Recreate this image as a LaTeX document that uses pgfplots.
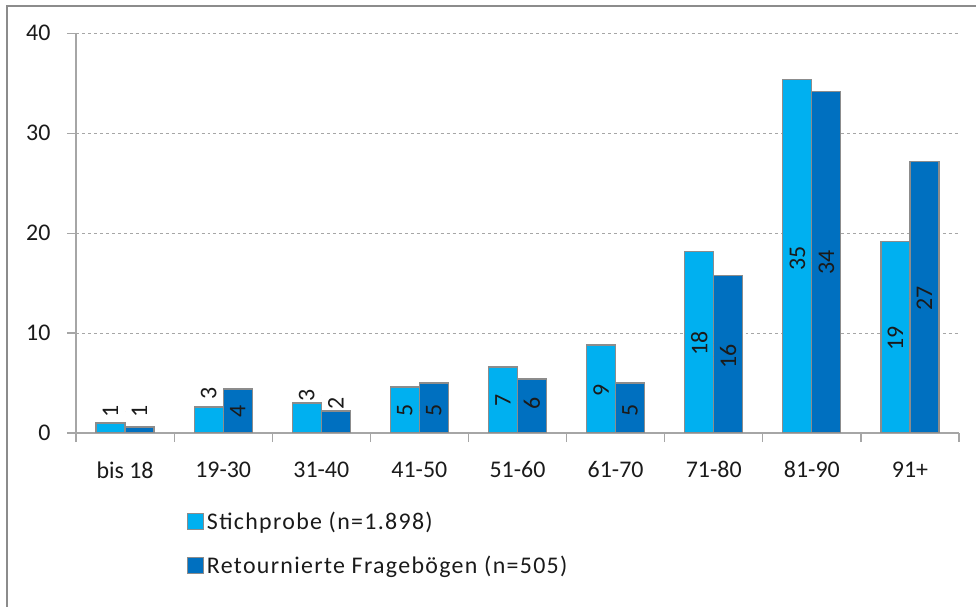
\documentclass[border=0pt]{standalone}
\usepackage{pgfplots}
\pgfplotsset{compat=1.18}
\usepackage{pgfplotstable}
\usepackage{fontspec}
\setmainfont{Carlito}
\newfontfamily\legfont[LetterSpace=5.5]{Carlito}

\definecolor{hell}{HTML}{00B0F0}
\definecolor{dunkel}{HTML}{0070C0}
\definecolor{achse}{HTML}{A6A6A6}
\definecolor{rand}{HTML}{8C8C8C}
\definecolor{schrift}{HTML}{1A1A1A}

% Balkenhoehen in Prozent
\pgfplotstableread{
x  stich retour
0  1.0   0.6
1  2.6   4.4
2  3.0   2.2
3  4.6   5.0
4  6.6   5.4
5  8.8   5.0
6  18.2  15.8
7  35.4  34.2
8  19.2  27.2
}\daten

% Position und Text der Beschriftungen
\pgfplotstableread{
x  ps   ts  pr   tr
0  2.15 1   2.15 1
1  3.95 3   2.15 4
2  3.8  3   2.95 2
3  2.3  5   2.3  5
4  3.3  7   2.95 6
5  4.3  9   2.3  5
6  9.0  18  7.65 16
7  17.5 35  17.1 34
8  9.5  19  13.5 27
}\beschr

\begin{document}
\begin{tikzpicture}[x=1bp,y=1bp]
\useasboundingbox (-76,-174) rectangle (900,433);
\draw[rand, line width=1.2bp] (-69,-174) -- (-69,427) -- (900,427);
\begin{axis}[
  at={(0,0)}, anchor=south west,
  width=883bp, height=399.7bp, scale only axis,
  xmin=-0.5, xmax=8.5, ymin=0, ymax=40,
  ytick={0,10,20,30,40},
  ymajorgrids, grid style={achse, dashed, line width=0.9bp},
  axis x line*=bottom, axis y line*=left,
  axis line style={achse, line width=1.2bp, -},
  tick style={achse, line width=1.2bp},
  major tick length=9bp, tick align=outside,
  xtick={-0.5,0.5,...,8.5}, xticklabels={},
  extra x ticks={0,1,2,3,4,5,6,7,8},
  extra x tick labels={bis 18,19-30,31-40,41-50,51-60,61-70,71-80,81-90,91+},
  extra x tick style={major tick length=0pt, xticklabel style={yshift=-25bp}},
  ticklabel style={font=\fontsize{24}{28}\selectfont, text=schrift},
  yticklabel style={xshift=-13bp},
  /pgf/number format/assume math mode=true,
  legend style={at={(0.1257,-0.19)}, anchor=north west, draw=none, fill=none,
    inner sep=0pt, outer sep=0pt, row sep=19bp,
    font=\legfont\fontsize{24}{28}\selectfont, text=schrift,
    nodes={inner sep=3bp, anchor=west}},
  legend cell align=left,
  legend image code/.code={\draw[#1, draw=rand, line width=1bp] (0bp,-8bp) rectangle (16bp,8bp);},
  bar width=29bp,
]
\addplot[ybar, bar shift=-14.5bp, fill=hell, draw=rand, line width=1.2bp]
  table[x=x, y=stich] {\daten};
\addlegendentry{Stichprobe (n=1.898)}
\addplot[ybar, bar shift=14.5bp, fill=dunkel, draw=rand, line width=1.2bp]
  table[x=x, y=retour] {\daten};
\addlegendentry{Retournierte Fragebögen (n=505)}
\addplot[only marks, mark=*, mark size=0pt, draw=none, fill=none, forget plot,
  point meta=explicit symbolic,
  nodes near coords={\rotatebox{90}{\pgfplotspointmeta}},
  every node near coord/.style={anchor=center, xshift=-14.5bp,
    font=\fontsize{24}{28}\selectfont, text=schrift}]
  table[x=x, y=ps, meta=ts] {\beschr};
\addplot[only marks, mark=*, mark size=0pt, draw=none, fill=none, forget plot,
  point meta=explicit symbolic,
  nodes near coords={\rotatebox{90}{\pgfplotspointmeta}},
  every node near coord/.style={anchor=center, xshift=14.5bp,
    font=\fontsize{24}{28}\selectfont, text=schrift}]
  table[x=x, y=pr, meta=tr] {\beschr};
\end{axis}
\end{tikzpicture}
\end{document}
